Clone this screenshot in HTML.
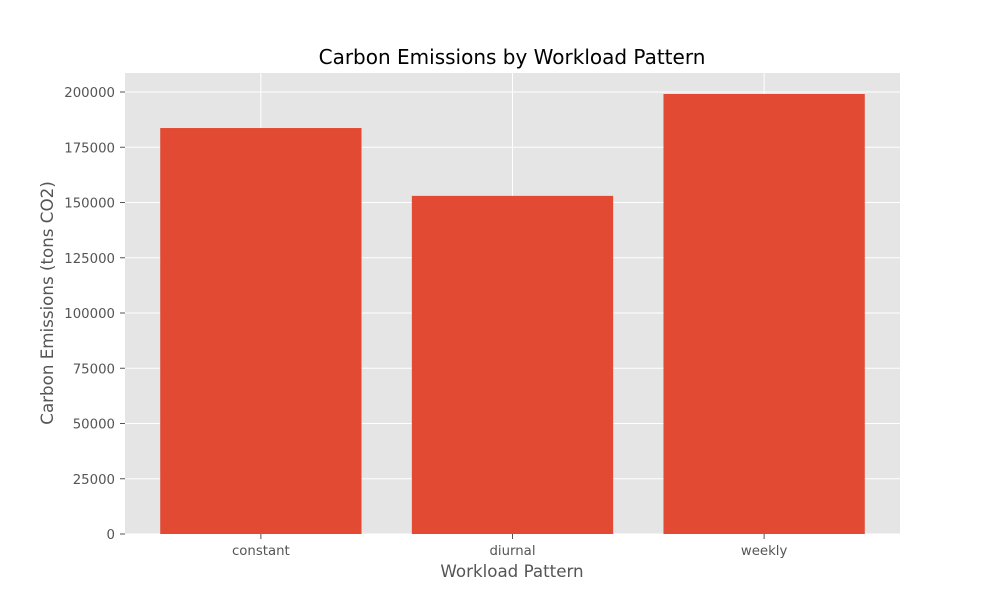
<!DOCTYPE html>
<html><head><meta charset="utf-8"><style>
body{margin:0;background:#fff;font-family:"DejaVu Sans","Liberation Sans",sans-serif;}
</style></head><body>
<svg id="chart" width="1000" height="600" xmlns="http://www.w3.org/2000/svg" font-family="DejaVu Sans, Liberation Sans, sans-serif">
<text x="512" y="64" text-anchor="middle" font-size="20" fill="#000">Carbon Emissions by Workload Pattern</text>
<rect x="125" y="73" width="775" height="461" fill="#e5e5e5"/>
<g id="grid"></g>
<g id="bars"></g>
<g id="ticks"></g>
<text x="512" y="577" text-anchor="middle" font-size="16.7" fill="#555">Workload Pattern</text>
<text transform="translate(53,303) rotate(-90)" text-anchor="middle" font-size="16.7" fill="#555">Carbon Emissions (tons CO2)</text>
</svg>
<script>
const categories = ["constant", "diurnal", "weekly"];
const values = [183700, 153000, 199100];
const yTicks = [0, 25000, 50000, 75000, 100000, 125000, 150000, 175000, 200000];
const NS = "http://www.w3.org/2000/svg";
const L = 125, R = 900, T = 73, B = 534;
const yMax = 208600;
const xMin = -0.54, xMax = 2.54;
const y = v => B - v / yMax * (B - T);
const x = i => L + (i - xMin) / (xMax - xMin) * (R - L);
const bw = 0.8 * (R - L) / (xMax - xMin);
function mk(tag, attrs, parent) {
  const e = document.createElementNS(NS, tag);
  for (const k in attrs) e.setAttribute(k, attrs[k]);
  parent.appendChild(e);
  return e;
}
const grid = document.getElementById("grid"), bars = document.getElementById("bars"), ticks = document.getElementById("ticks");
yTicks.forEach(v => {
  const g = mk("line", {x1: L, x2: R, y1: y(v), y2: y(v), stroke: "#fff", "stroke-width": 1}, grid);
  
  
  const t = mk("line", {x1: L - 5, x2: L, y1: y(v), y2: y(v), stroke: "#555"}, ticks);
  
  
  const lb = mk("text", {x: L - 10, y: y(v) + 5, "text-anchor": "end", "font-size": 13.3, fill: "#555"}, ticks);
  lb.textContent = v;
  
  
});
categories.forEach((c, i) => {
  const g = mk("line", {x1: x(i), x2: x(i), y1: T, y2: B, stroke: "#fff"}, grid);
  
  
  const b = mk("rect", {x: x(i) - bw / 2, y: y(values[i]), width: bw, height: B - y(values[i]), fill: "#e24a33"}, bars);
  
  
  const t = mk("line", {x1: x(i), x2: x(i), y1: B, y2: B + 5, stroke: "#555"}, ticks);
  
  
  const lb = mk("text", {x: x(i), y: B + 21, "text-anchor": "middle", "font-size": 13.3, fill: "#555"}, ticks);
  lb.textContent = c;
  
  
});
</script>
</body></html>
